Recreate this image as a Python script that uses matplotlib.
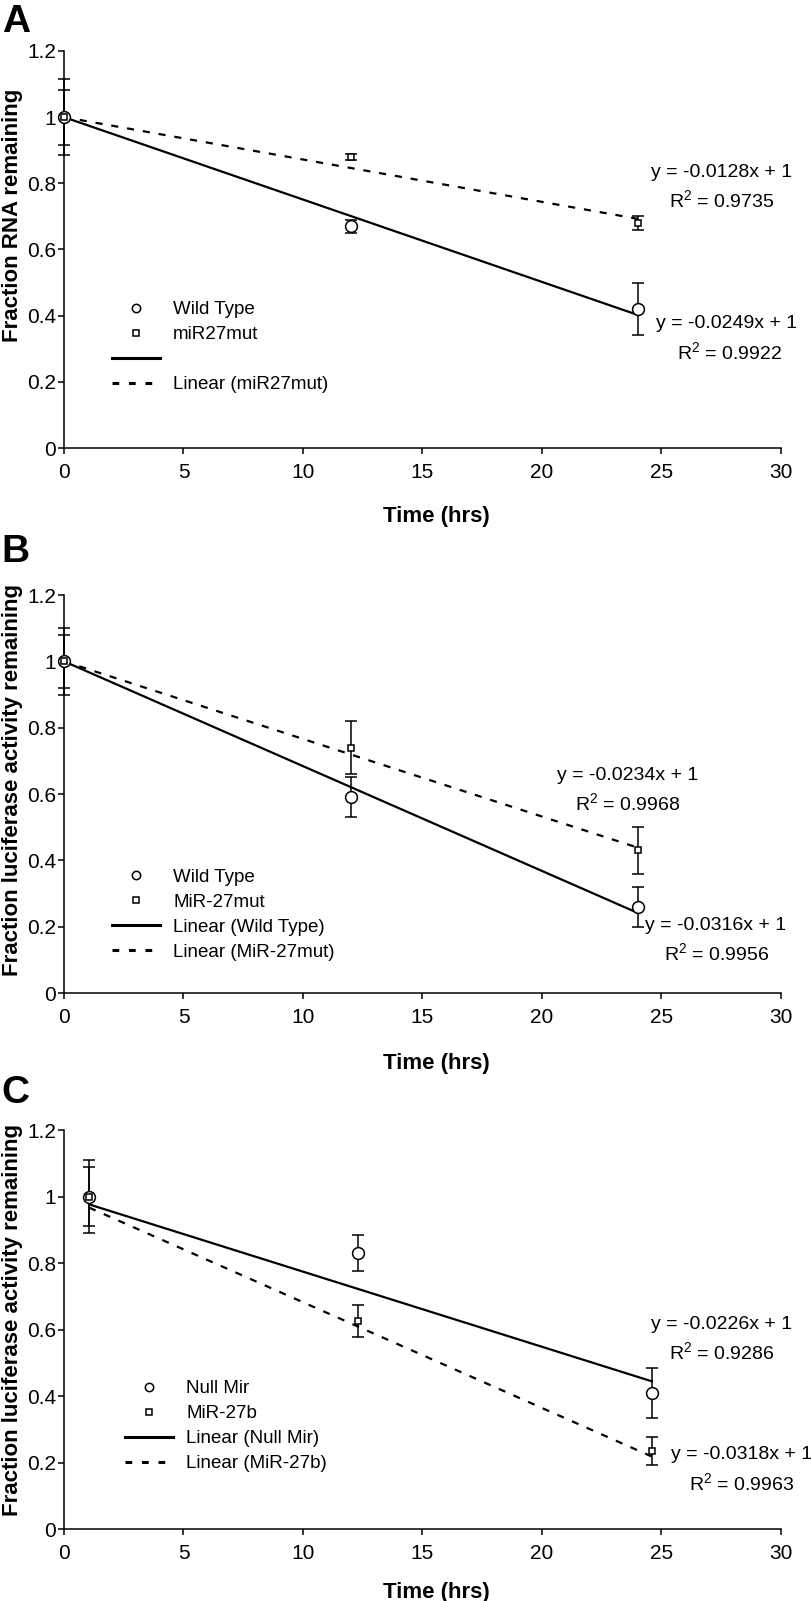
import matplotlib
matplotlib.use("Agg")
import matplotlib.pyplot as plt
from matplotlib.lines import Line2D
import numpy as np

plt.rcParams['font.family'] = ['Liberation Sans', 'DejaVu Sans']
plt.rcParams['mathtext.fontset'] = 'custom'
plt.rcParams['mathtext.rm'] = 'Liberation Sans'
plt.rcParams['mathtext.it'] = 'Liberation Sans:italic'

# panel A - RNA decay
time_a = [0, 12, 24]
wt_a = [1.0, 0.67, 0.42]
wt_a_err = [0.115, 0.02, 0.078]
mut_a = [1.0, 0.88, 0.68]
mut_a_err = [0.083, 0.01, 0.02]
slope_wt_a = -0.0249
slope_mut_a = -0.0128
r2_wt_a = 0.9922
r2_mut_a = 0.9735

# panel B - luciferase activity
time_b = [0, 12, 24]
wt_b = [1.0, 0.59, 0.26]
wt_b_err = [0.10, 0.06, 0.06]
mut_b = [1.0, 0.74, 0.43]
mut_b_err = [0.08, 0.08, 0.07]
slope_wt_b = -0.0316
slope_mut_b = -0.0234
r2_wt_b = 0.9956
r2_mut_b = 0.9968

# panel C - luciferase activity, miR-27b
time_c = [1.05, 12.3, 24.6]
null_c = [1.0, 0.83, 0.41]
null_c_err = [0.11, 0.055, 0.075]
mir_c = [1.0, 0.625, 0.235]
mir_c_err = [0.09, 0.048, 0.042]
slope_null_c = -0.0226
slope_mir_c = -0.0318
r2_null_c = 0.9286
r2_mir_c = 0.9963

xticks = [0, 5, 10, 15, 20, 25, 30]
yticks = [0, 0.2, 0.4, 0.6, 0.8, 1.0, 1.2]
ytick_labels = ['0', '0.2', '0.4', '0.6', '0.8', '1', '1.2']

W, H = 812, 1601
fig = plt.figure(figsize=(W / 100, H / 100), dpi=100)

DASH = (0, (3.2, 4.0))
FS = 13.5
FS_EQ = 14


def make_axes(top_px, bot_px):
    left, right = 64, 781
    return fig.add_axes([left / W, 1 - bot_px / H, (right - left) / W, (bot_px - top_px) / H])


def draw_panel(ax, t, y1, e1, y2, e2, s1, s2, ylabel, ylab_y, xlab_y, eqs, labels, leg_xy):
    t = np.array(t, dtype=float)
    # trend lines
    ax.plot(t, s1 * t + 1, color='black', lw=1.6, zorder=2, clip_on=False)
    ax.plot(t, s2 * t + 1, color='black', lw=1.6, ls=DASH, zorder=2, clip_on=False)
    # error bars
    ax.errorbar(t, y1, yerr=e1, fmt='none', ecolor='black', elinewidth=1.1,
                capsize=4, capthick=1.1, zorder=3, clip_on=False)
    ax.errorbar(t, y2, yerr=e2, fmt='none', ecolor='black', elinewidth=1.1,
                capsize=4, capthick=1.1, zorder=3, clip_on=False)
    ax.plot(t, y1, ls='none', marker='o', ms=8.5, mfc='white', mec='black', mew=1.1,
            zorder=4, clip_on=False)
    ax.plot(t, y2, ls='none', marker='s', ms=4.8, mfc='white', mec='black', mew=1.1,
            zorder=5, clip_on=False)

    ax.set_xlim(0, 30)
    ax.set_ylim(0, 1.2)
    ax.set_xticks(xticks)
    ax.set_yticks(yticks)
    ax.set_yticklabels(ytick_labels)
    for s in ['top', 'right']:
        ax.spines[s].set_visible(False)
    for s in ['left', 'bottom']:
        ax.spines[s].set_linewidth(1.1)
    ax.tick_params(direction='out', length=4.5, width=1.1, labelsize=15)
    ax.tick_params(axis='x', pad=6)
    ax.tick_params(axis='y', pad=1)

    ax.set_xlabel('Time (hrs)', fontsize=16, fontweight='bold')
    ax.xaxis.set_label_coords(0.52, xlab_y)
    ax.set_ylabel(ylabel, fontsize=16, fontweight='bold')
    ax.yaxis.set_label_coords(-0.057, ylab_y)

    for (x, y, txt) in eqs:
        ax.text(x, y, txt, fontsize=FS_EQ, ha='center', va='center')

    handles = [
        Line2D([], [], ls='none', marker='o', ms=6, mfc='white', mec='black', mew=1.1),
        Line2D([], [], ls='none', marker='s', ms=4.5, mfc='white', mec='black', mew=1.1),
        Line2D([], [], color='black', lw=2.2),
        Line2D([], [], color='black', lw=2.2, ls=(0, (2.2, 3.2))),
    ]
    ax.legend(handles, labels, loc='upper left', bbox_to_anchor=leg_xy, frameon=False,
              fontsize=FS, borderpad=0, borderaxespad=0, handlelength=2.56,
              handletextpad=0.7, labelspacing=0.42)


ax_a = make_axes(51, 448)
draw_panel(ax_a, time_a, wt_a, wt_a_err, mut_a, mut_a_err, slope_wt_a, slope_mut_a,
           'Fraction RNA remaining', 0.587, -0.145,
           [(27.5, 0.834, f'y = {slope_mut_a}x + 1'),
            (27.5, 0.750, f'R$^2$ = {r2_mut_a}'),
            (27.74, 0.375, f'y = {slope_wt_a}x + 1'),
            (27.87, 0.290, f'R$^2$ = {r2_wt_a}')],
           ['Wild Type', 'miR27mut', ' ', 'Linear (miR27mut)'], (0.067, 0.37))

ax_b = make_axes(595, 993)
draw_panel(ax_b, time_b, wt_b, wt_b_err, mut_b, mut_b_err, slope_wt_b, slope_mut_b,
           'Fraction luciferase activity remaining', 0.535, -0.15,
           [(23.6, 0.657, f'y = {slope_mut_b}x + 1'),
            (23.6, 0.573, f'R$^2$ = {r2_mut_b}'),
            (27.28, 0.205, f'y = {slope_wt_b}x + 1'),
            (27.3, 0.121, f'R$^2$ = {r2_wt_b}')],
           ['Wild Type', 'MiR-27mut', 'Linear (Wild Type)', 'Linear (MiR-27mut)'], (0.067, 0.312))

ax_c = make_axes(1130, 1529)
draw_panel(ax_c, time_c, null_c, null_c_err, mir_c, mir_c_err, slope_null_c, slope_mir_c,
           'Fraction luciferase activity remaining', 0.524, -0.132,
           [(27.53, 0.614, f'y = {slope_null_c}x + 1'),
            (27.53, 0.532, f'R$^2$ = {r2_null_c}'),
            (28.33, 0.223, f'y = {slope_mir_c}x + 1'),
            (28.37, 0.138, f'R$^2$ = {r2_mir_c}')],
           ['Null Mir', 'MiR-27b', 'Linear (Null Mir)', 'Linear (MiR-27b)'], (0.085, 0.373))

for letter, base in [('A', 32), ('B', 562), ('C', 1103)]:
    fig.text(0.002, 1 - base / H, letter, fontsize=28, fontweight='bold',
             ha='left', va='baseline')

fig.savefig('out.png', dpi=100)
